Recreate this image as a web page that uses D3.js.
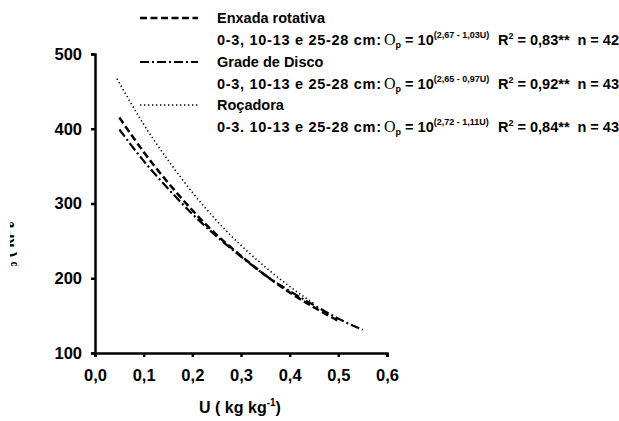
<!DOCTYPE html>
<html>
<head>
<meta charset="utf-8">
<script src="https://cdn.jsdelivr.net/npm/d3@7"></script>
<style>
  body { margin: 0; background: #fff; }
  text { font-family: "Liberation Sans", Arial, sans-serif; font-weight: bold; fill: #000; }
</style>
</head>
<body>
<div id="chart"></div>
<script>
// values
const enxadaU  = [0.05, 0.10, 0.15, 0.20, 0.25, 0.30, 0.35, 0.40, 0.45, 0.50];
const enxadaOp = [415, 369, 328, 291, 258, 230, 204, 181, 161, 143];
const gradeU   = [0.05, 0.10, 0.15, 0.20, 0.25, 0.30, 0.35, 0.40, 0.45, 0.50, 0.55];
const gradeOp  = [399, 357, 320, 286, 256, 229, 204, 183, 164, 146, 131];
const rocaU    = [0.045, 0.10, 0.15, 0.20, 0.25, 0.30, 0.35, 0.40, 0.45];
const rocaOp   = [467, 406, 358, 315, 277, 244, 215, 189, 166];

const xTicks = [0, 0.1, 0.2, 0.3, 0.4, 0.5, 0.6];
const yTicks = [100, 200, 300, 400, 500];

const legendNames = ["Enxada rotativa", "Grade de Disco", "Roçadora"];
const legendDepth = ["0-3, 10-13 e 25-28 cm:", "0-3, 10-13 e 25-28 cm:", "0-3. 10-13 e 25-28 cm:"];
const legendExp = ["(2,67 - 1,03U)", "(2,65 - 0,97U)", "(2,72 - 1,11U)"];
const legendR2 = ["0,83**", "0,92**", "0,84**"];
const legendN = ["42", "43", "43"];

const width = 619, height = 421;
const svg = d3.select("#chart").append("svg")
    .attr("width", width)
    .attr("height", height);

const x = d3.scaleLinear().domain([0, 0.6]).range([95, 387]);
const y = d3.scaleLinear().domain([100, 500]).range([353, 54]);

const fmt = d => d3.format(".1f")(d).replace(".", ",");

// axes
const xAxis = svg.append("g")
    .attr("transform", "translate(0," + y(100) + ")")
    .call(d3.axisBottom(x).tickValues(xTicks).tickFormat(fmt).tickSize(4).tickPadding(12));
const yAxis = svg.append("g")
    .attr("transform", "translate(" + x(0) + ",0)")
    .call(d3.axisLeft(y).tickValues(yTicks).tickSize(4).tickPadding(9));

[xAxis, yAxis].forEach(g => {
    g.select(".domain").attr("stroke-width", 2.5).attr("stroke", "#000");
    g.selectAll(".tick line").attr("stroke-width", 2.5).attr("stroke", "#000");
    g.selectAll(".tick text")
        .style("font-family", '"Liberation Sans", Arial, sans-serif')
        .style("font-weight", "bold")
        .style("font-size", "16.5px");
});

// curves
const line = d3.line().x(d => x(d[0])).y(d => y(d[1])).curve(d3.curveMonotoneX);
const series = [
    { u: enxadaU, v: enxadaOp, dash: "7,3.5", w: 2.5 },
    { u: gradeU, v: gradeOp, dash: "9,3,2,3", w: 2.2 },
    { u: rocaU, v: rocaOp, dash: "1.3,2.7", w: 1.6 }
];
series.forEach(s => {
    svg.append("path")
        .datum(d3.zip(s.u, s.v))
        .attr("d", line)
        .attr("fill", "none")
        .attr("stroke", "#000")
        .attr("stroke-width", s.w)
        .attr("stroke-dasharray", s.dash);
});

// legend
const rowY = [18, 62, 105];
series.forEach((s, i) => {
    const cy = rowY[i];
    svg.append("line")
        .attr("x1", 140).attr("x2", 198)
        .attr("y1", cy).attr("y2", cy)
        .attr("stroke", "#000")
        .attr("stroke-width", s.w)
        .attr("stroke-dasharray", s.dash);
    svg.append("text")
        .attr("x", 217).attr("y", cy + 5)
        .style("font-size", "14.5px")
        .text(legendNames[i]);

    const by = cy + 27;
    svg.append("text")
        .attr("x", 217).attr("y", by)
        .attr("textLength", 164)
        .attr("lengthAdjust", "spacing")
        .style("font-size", "14.5px")
        .text(legendDepth[i]);

    const f = svg.append("text")
        .attr("x", 384).attr("y", by)
        .style("font-size", "14.5px");
    f.append("tspan")
        .style("font-family", '"Liberation Serif", "Times New Roman", serif')
        .style("font-weight", "normal")
        .style("font-size", "16px")
        .text("O");
    f.append("tspan").attr("dy", 3).style("font-size", "9px").text("p");
    f.append("tspan").attr("dy", -3).text(" = 10");
    f.append("tspan").attr("dy", -7).style("font-size", "9px").text(legendExp[i]);

    const r = svg.append("text")
        .attr("x", 498).attr("y", by)
        .style("font-size", "14.5px");
    r.append("tspan").text("R");
    r.append("tspan").attr("dy", -6).style("font-size", "9px").text("2");
    r.append("tspan").attr("dy", 6).text(" = " + legendR2[i]);

    svg.append("text")
        .attr("x", 619).attr("y", by)
        .attr("text-anchor", "end")
        .style("font-size", "14.5px")
        .text("n = " + legendN[i]);
});

// axis titles
const xt = svg.append("text")
    .attr("x", 240).attr("y", 413)
    .attr("text-anchor", "middle")
    .style("font-size", "16px");
xt.append("tspan").text("U ( kg kg");
xt.append("tspan").attr("dy", -7).style("font-size", "10px").text("-1");
xt.append("tspan").attr("dy", 7).text(")");

// y title, mostly cut off at the left edge (as in the original)
svg.append("clipPath").attr("id", "yclip")
    .append("rect").attr("x", 10).attr("y", 222).attr("width", 16).attr("height", 44);
const yt = svg.append("g")
    .attr("clip-path", "url(#yclip)")
    .append("text")
    .attr("transform", "translate(14,245) rotate(-90)")
    .attr("text-anchor", "middle")
    .style("font-size", "16px");
yt.append("tspan")
    .style("font-family", '"Liberation Serif", "Times New Roman", serif')
    .style("font-weight", "normal")
    .style("font-size", "18px")
    .text("O");
yt.append("tspan").attr("dy", 3).style("font-size", "10px").text("p");
yt.append("tspan").attr("dy", -3).text(" ( kPa )");
</script>
</body>
</html>
